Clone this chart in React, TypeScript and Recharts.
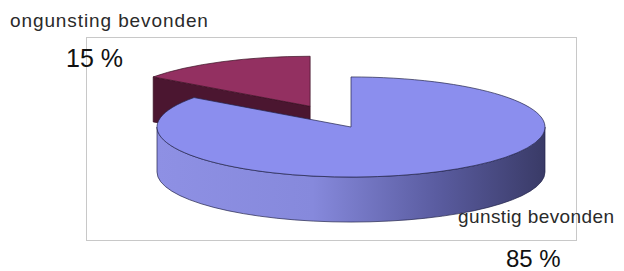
import React from 'react';
import { PieChart, Pie } from 'recharts';

document.body.style.margin = '0';

// data
const categories = ['ongunsting bevonden', 'gunstig bevonden'];
const shares = [15, 85];
const shareLabels = ['15 %', '85 %'];

const data = categories.map((name, i) => ({ name, value: shares[i] }));

// 3D look
const TILT = 0.258;
const DEPTH = 45;
const RAD = Math.PI / 180;

const sliceStyles = [
  { top: '#933061', side: '#4b1630', edge: '#3a1022', explode: 90 },
  { top: '#8b8eee', side: 'url(#blueSide)', edge: '#23244a', explode: 0 },
];

const font = '"Liberation Sans", Arial, sans-serif';

function Slice3D(props: any) {
  const { cx, cy, outerRadius, startAngle, endAngle, midAngle, index } = props;
  const st = sliceStyles[index];
  const rx = outerRadius;
  const ry = rx * TILT;
  const ox = cx + st.explode * Math.cos(midAngle * RAD);
  const oy = cy - st.explode * TILT * Math.sin(midAngle * RAD);
  const s = Math.max(startAngle, endAngle);
  const e = Math.min(startAngle, endAngle);

  const pt = (a: number, dz = 0) =>
    `${ox + rx * Math.cos(a * RAD)} ${oy - ry * Math.sin(a * RAD) + dz}`;

  const parts: React.ReactNode[] = [];

  // outer wall, only the front half shows
  for (let k = -2; k <= 1; k++) {
    const lo = 180 + 360 * k;
    const hi = 360 + 360 * k;
    const a1 = Math.max(e, lo);
    const a2 = Math.min(s, hi);
    if (a2 - a1 > 0.01) {
      const d = `M ${pt(a1)} A ${rx} ${ry} 0 0 0 ${pt(a2)} L ${pt(a2, DEPTH)} A ${rx} ${ry} 0 0 1 ${pt(a1, DEPTH)} Z`;
      parts.push(<path key={`w${k}`} d={d} fill={st.side} stroke={st.edge} strokeWidth={0.7} />);
    }
  }

  // cut faces
  const c0 = `${ox} ${oy}`;
  const c1 = `${ox} ${oy + DEPTH}`;
  if (Math.cos(s * RAD) < -0.01) {
    parts.push(
      <path key="fs" d={`M ${c0} L ${pt(s)} L ${pt(s, DEPTH)} L ${c1} Z`} fill={st.side} stroke={st.edge} strokeWidth={0.7} />
    );
  }
  if (Math.cos(e * RAD) > 0.01) {
    parts.push(
      <path key="fe" d={`M ${c0} L ${pt(e)} L ${pt(e, DEPTH)} L ${c1} Z`} fill={st.side} stroke={st.edge} strokeWidth={0.7} />
    );
  }

  const large = s - e > 180 ? 1 : 0;
  parts.push(
    <path
      key="top"
      d={`M ${c0} L ${pt(s)} A ${rx} ${ry} 0 ${large} 1 ${pt(e)} Z`}
      fill={st.top}
      stroke={st.edge}
      strokeWidth={0.7}
    />
  );

  return (
    <g>
      <defs>
        <linearGradient id="blueSide" x1="157" y1="0" x2="546" y2="0" gradientUnits="userSpaceOnUse">
          <stop offset="0%" stopColor="#8e90e4" />
          <stop offset="40%" stopColor="#8689dc" />
          <stop offset="72%" stopColor="#5a5ca0" />
          <stop offset="100%" stopColor="#393a66" />
        </linearGradient>
      </defs>
      {parts}
    </g>
  );
}

export default function App() {
  return (
    <PieChart width={624} height={271} margin={{ top: 0, right: 0, bottom: 0, left: 0 }}>
      <rect x={86.5} y={37.5} width={490} height={203} fill="none" stroke="#c8c8c8" />
      <Pie
        data={data}
        dataKey="value"
        nameKey="name"
        cx={351}
        cy={127}
        outerRadius={194}
        startAngle={144}
        endAngle={-216}
        stroke="none"
        shape={Slice3D}
        isAnimationActive={false}
      />
      <text x={10} y={27} fontSize={19} letterSpacing={0.9} fill="#2a2a2a" fontFamily={font}>{categories[0]}</text>
      <text x={66} y={67} fontSize={25} fill="#111" fontFamily={font}>{shareLabels[0]}</text>
      <text x={458} y={223} fontSize={19} letterSpacing={0.4} fill="#2a2a2a" fontFamily={font}>{categories[1]}</text>
      <text x={506} y={267} fontSize={24} fill="#111" fontFamily={font}>{shareLabels[1]}</text>
    </PieChart>
  );
}
